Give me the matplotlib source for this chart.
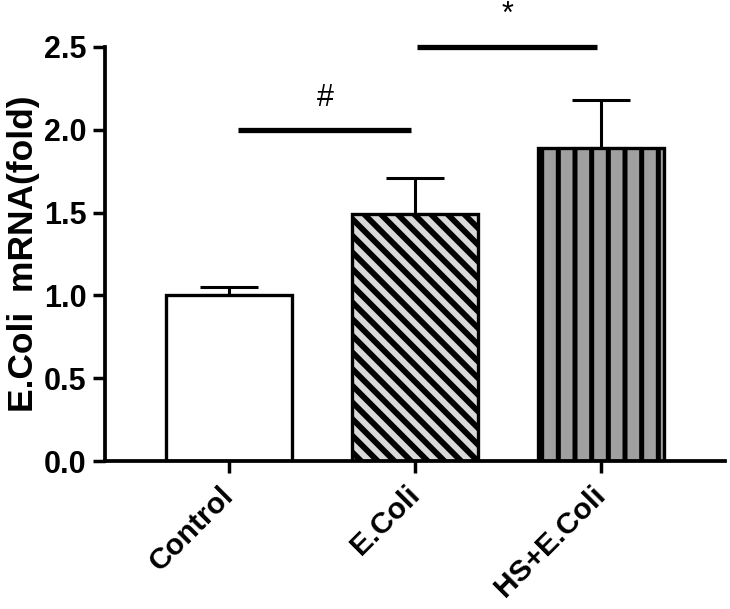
import matplotlib
matplotlib.use('Agg')
import matplotlib.pyplot as plt
import numpy as np

plt.rcParams['font.family'] = ['Liberation Sans', 'DejaVu Sans']
plt.rcParams['font.weight'] = 'bold'

# ── Data ─────────────────────────────────────────────────
groups = ['Control', 'E.Coli', 'HS+E.Coli']
means  = [1.00, 1.49, 1.89]
errs   = [0.05, 0.22, 0.29]

fills   = ['white', '#d9d9d9', '#a0a0a0']
hatches = ['', '\\\\', '|']
hatch_lw = [1.0, 4.2, 3.6]

# significance brackets: (start, end, height, label)
sig_pairs = [(0.05, 0.98, 2.0, '#'), (1.01, 1.98, 2.5, '*')]

fig = plt.figure(figsize=(7.3, 6.09), dpi=100)
ax = fig.add_axes([0.144, 0.243, 0.849, 0.680])

x = np.arange(len(groups))
for i in range(len(groups)):
    with plt.rc_context({'hatch.linewidth': hatch_lw[i]}):
        ax.bar(x[i], means[i], width=0.68, color=fills[i], edgecolor='black',
               linewidth=2.4, hatch=hatches[i], zorder=2)
    ax.errorbar(x[i], means[i], yerr=[[0], [errs[i]]], fmt='none',
                ecolor='black', elinewidth=2.2, capsize=21, capthick=2.2, zorder=1)

for x0, x1, h, lab in sig_pairs:
    ax.plot([x0, x1], [h, h], color='black', linewidth=3.8, solid_capstyle='butt',
            clip_on=False)
    ax.text((x0 + x1) / 2, h + 0.1, lab, ha='center', va='bottom',
            fontsize=22, fontweight='normal', clip_on=False)

ax.set_xlim(-0.667, 2.667)
ax.set_ylim(0, 2.5)
ax.set_yticks([0.0, 0.5, 1.0, 1.5, 2.0, 2.5])
ax.set_yticklabels([f'{v:.1f}' for v in [0.0, 0.5, 1.0, 1.5, 2.0, 2.5]],
                   fontsize=22, fontweight='bold')
ax.set_xticks(x)
ax.set_xticklabels(groups, rotation=45, ha='right', va='center',
                   rotation_mode='anchor', fontsize=21.5, fontweight='bold')
ax.set_ylabel('E.Coli  mRNA(fold)', fontsize=25.5, fontweight='bold', labelpad=3)

for s in ['top', 'right']:
    ax.spines[s].set_visible(False)
for s in ['left', 'bottom']:
    ax.spines[s].set_linewidth(2.7)
ax.tick_params(axis='both', width=2.5, length=8.5, direction='out')
ax.tick_params(axis='y', pad=5)
ax.tick_params(axis='x', pad=13)

fig.savefig('out.png', dpi=100)
